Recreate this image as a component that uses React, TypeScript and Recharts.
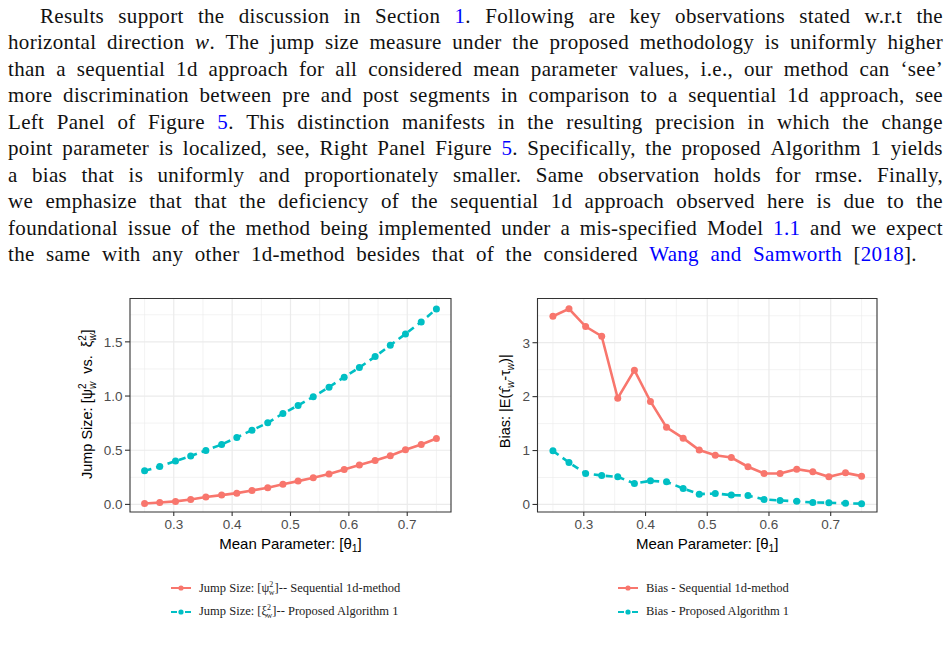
import React from 'react'
import { LineChart, Line, XAxis, YAxis, CartesianGrid, ReferenceArea } from 'recharts'

// mean parameter grid (20 values between 0.25 and 0.75)
const theta = [
  0.25, 0.276, 0.303, 0.329, 0.355, 0.382, 0.408, 0.434, 0.461, 0.487,
  0.513, 0.539, 0.566, 0.592, 0.618, 0.645, 0.671, 0.697, 0.724, 0.75,
]

const jumpSequential = [
  0.009, 0.018, 0.028, 0.046, 0.068, 0.086, 0.104, 0.129, 0.154, 0.187,
  0.215, 0.246, 0.28, 0.323, 0.363, 0.406, 0.449, 0.504, 0.553, 0.608,
]
const jumpProposed = [
  0.31, 0.35, 0.4, 0.446, 0.498, 0.553, 0.618, 0.685, 0.753, 0.839,
  0.913, 0.993, 1.082, 1.174, 1.263, 1.364, 1.469, 1.573, 1.684, 1.804,
]
const biasSequential = [
  3.49, 3.63, 3.3, 3.12, 1.97, 2.49, 1.91, 1.43, 1.23, 1.01,
  0.914, 0.87, 0.7, 0.574, 0.574, 0.654, 0.605, 0.512, 0.586, 0.525,
]
const biasProposed = [
  0.994, 0.778, 0.574, 0.537, 0.512, 0.389, 0.438, 0.42, 0.296, 0.191,
  0.204, 0.173, 0.165, 0.093, 0.074, 0.058, 0.037, 0.033, 0.022, 0.015,
]

const xTicks = [0.3, 0.4, 0.5, 0.6, 0.7]
const xMinor = [0.25, 0.35, 0.45, 0.55, 0.65, 0.75]
const jumpTicks = [0, 0.5, 1, 1.5]
const jumpMinor = [0.25, 0.75, 1.25, 1.75]
const biasTicks = [0, 1, 2, 3]
const biasMinor = [0.5, 1.5, 2.5, 3.5]

const paragraph = [
  'Results support the discussion in Section {1}.  Following are key observations stated w.r.t the',
  'horizontal direction *w*. The jump size measure under the proposed methodology is uniformly higher',
  'than a sequential 1d approach for all considered mean parameter values, i.e., our method can \u2018see\u2019',
  'more discrimination between pre and post segments in comparison to a sequential 1d approach, see',
  'Left Panel of Figure {5}. This distinction manifests in the resulting precision in which the change',
  'point parameter is localized, see, Right Panel Figure {5}. Specifically, the proposed Algorithm 1 yields',
  'a bias that is uniformly and proportionately smaller.  Same observation holds for rmse.  Finally,',
  'we emphasize that that the deficiency of the sequential 1d approach observed here is due to the',
  'foundational issue of the method being implemented under a mis-specified Model {1.1} and we expect',
  'the same with any other 1d-method besides that of the considered {Wang} {and} {Samworth} [{2018}].',
]

const RED = '#F8766D'
const CYAN = '#00BFC4'
const SANS = '"Liberation Sans", Arial, Helvetica, sans-serif'
const SERIF = '"Liberation Serif", "Times New Roman", serif'
const X_DOMAIN = [0.225, 0.775]
const JUMP_DOMAIN = [-0.07, 1.9]
const BIAS_DOMAIN = [-0.14, 3.82]

const jumpRows = theta.map((t, i) => ({ theta: t, seq: jumpSequential[i], prop: jumpProposed[i] }))
const biasRows = theta.map((t, i) => ({ theta: t, seq: biasSequential[i], prop: biasProposed[i] }))

const renderWord = (word: string, key: number) => {
  const parts = word.split(/(\{[^}]*\}|\*[^*]*\*)/).filter(Boolean)
  return (
    <span key={key}>
      {parts.map((p, i) => {
        if (p.startsWith('{')) return <span key={i} style={{ color: '#0000FF' }}>{p.slice(1, -1)}</span>
        if (p.startsWith('*')) return <i key={i}>{p.slice(1, -1)}</i>
        return <React.Fragment key={i}>{p}</React.Fragment>
      })}
    </span>
  )
}

function Paragraph() {
  return (
    <>
      {paragraph.map((line, i) => {
        const left = i === 0 ? 40 : 8
        const right = i === paragraph.length - 1 ? 917 : 943
        return (
          <div
            key={i}
            style={{
              position: 'absolute',
              left,
              top: 2.5 + i * 26.55,
              width: right - left,
              height: 26.5,
              lineHeight: '26.5px',
              display: 'flex',
              justifyContent: 'space-between',
              whiteSpace: 'nowrap',
              fontFamily: SERIF,
              fontSize: 21,
              letterSpacing: 0.32,
              color: '#111',
            }}
          >
            {line.split(/\s+/).map(renderWord)}
          </div>
        )
      })}
    </>
  )
}

const axisTick = { fill: '#4D4D4D', fontSize: 13.5, fontFamily: SANS }

const XTitle = ({ viewBox }: any) => {
  const vb = viewBox ?? { x: 70, y: 221, width: 321, height: 48 }
  return (
    <text x={vb.x + vb.width / 2} y={vb.y + 37} textAnchor="middle" fontSize={15} fontFamily={SANS} fill="#000">
      Mean Parameter: [θ
      <tspan fontSize={10.5} dy={3}>1</tspan>
      <tspan dy={-3}>]</tspan>
    </text>
  )
}

const JumpTitle = ({ viewBox }: any) => {
  const vb = viewBox ?? { x: 0, y: 8.5, width: 70, height: 213 }
  const cx = vb.x + 32
  const cy = vb.y + vb.height / 2 - 1
  return (
    <text
      transform={`translate(${cx},${cy}) rotate(-90)`}
      textAnchor="middle"
      fontSize={14.5}
      fontFamily={SANS}
      fill="#000"
      style={{ whiteSpace: 'pre' }}
    >
      Jump Size: [ψ
      <tspan fontSize={10} dy={-6}>2</tspan>
      <tspan fontSize={10} dx={-5.6} dy={10} fontStyle="italic">w</tspan>
      <tspan dy={-4}>{'  vs.  ξ'}</tspan>
      <tspan fontSize={10} dy={-6}>2</tspan>
      <tspan fontSize={10} dx={-5.6} dy={10} fontStyle="italic">w</tspan>
      <tspan dy={-4}>]</tspan>
    </text>
  )
}

const BiasTitle = ({ viewBox }: any) => {
  const vb = viewBox ?? { x: 0, y: 8.5, width: 57.5, height: 213 }
  const cx = vb.x + 30
  const cy = vb.y + vb.height / 2 - 4
  return (
    <text
      transform={`translate(${cx},${cy}) rotate(-90)`}
      textAnchor="middle"
      fontSize={14.5}
      fontFamily={SANS}
      fill="#000"
    >
      Bias: |E(τ̂
      <tspan fontSize={10} dy={4} fontStyle="italic">w</tspan>
      <tspan dy={-4}>-τ</tspan>
      <tspan fontSize={10} dy={4} fontStyle="italic">w</tspan>
      <tspan dy={-4}>)|</tspan>
    </text>
  )
}

interface PanelProps {
  rows: { theta: number; seq: number; prop: number }[]
  yDomain: number[]
  yTicks: number[]
  yMinor: number[]
  yWidth: number
  right: number
  digits: number
  title: React.ReactElement
}

function Panel({ rows, yDomain, yTicks, yMinor, yWidth, right, digits, title }: PanelProps) {
  return (
    <LineChart width={400} height={270} data={rows} margin={{ top: 8.5, right, bottom: 0, left: 0 }}>
      <CartesianGrid verticalValues={xMinor} horizontalValues={yMinor} stroke="#EBEBEB" strokeWidth={0.6} />
      <CartesianGrid verticalValues={xTicks} horizontalValues={yTicks} stroke="#EBEBEB" strokeWidth={1.2} />
      <XAxis
        type="number"
        dataKey="theta"
        domain={X_DOMAIN}
        ticks={xTicks}
        allowDataOverflow
        tickFormatter={(v: number) => v.toFixed(1)}
        height={48}
        tickSize={4}
        tickMargin={3}
        axisLine={false}
        tickLine={{ stroke: '#333333', strokeWidth: 1.1 }}
        tick={axisTick}
        label={<XTitle />}
      />
      <YAxis
        type="number"
        domain={yDomain}
        ticks={yTicks}
        allowDataOverflow
        tickFormatter={(v: number) => v.toFixed(digits)}
        width={yWidth}
        tickSize={5}
        tickMargin={2.5}
        axisLine={false}
        tickLine={{ stroke: '#333333', strokeWidth: 1.1 }}
        tick={axisTick}
        label={title}
      />
      <Line
        dataKey="seq"
        stroke={RED}
        strokeWidth={2.6}
        dot={{ r: 3.5, fill: RED, stroke: RED, strokeWidth: 0 }}
        activeDot={false}
        isAnimationActive={false}
      />
      <Line
        dataKey="prop"
        stroke={CYAN}
        strokeWidth={2.6}
        strokeDasharray="7 5"
        dot={{ r: 3.5, fill: CYAN, stroke: CYAN, strokeWidth: 0, strokeDasharray: '' }}
        activeDot={false}
        isAnimationActive={false}
      />
      <ReferenceArea
        x1={X_DOMAIN[0]}
        x2={X_DOMAIN[1]}
        y1={yDomain[0]}
        y2={yDomain[1]}
        fill="none"
        stroke="#333333"
        strokeWidth={1.1}
        ifOverflow="visible"
      />
    </LineChart>
  )
}

// superscript 2 stacked over subscript w
const Stack = () => (
  <>
    <span style={{ fontSize: 8, position: 'relative', top: -5 }}>2</span>
    <span style={{ fontSize: 8, position: 'relative', top: 3, marginLeft: -4.5 }}>w</span>
  </>
)

const LegendKey = ({ color, dashed }: { color: string; dashed?: boolean }) => (
  <svg width={21} height={10} style={{ marginRight: 7, flexShrink: 0 }}>
    <line x1={0} y1={5} x2={20} y2={5} stroke={color} strokeWidth={2} strokeDasharray={dashed ? '6 8' : undefined} />
    <circle cx={10} cy={5} r={2.6} fill={color} />
  </svg>
)

function LegendBox({ left, items }: { left: number; items: { color: string; dashed?: boolean; label: React.ReactNode }[] }) {
  return (
    <div style={{ position: 'absolute', left, top: 576.5, fontFamily: SERIF, fontSize: 12.5, color: '#222' }}>
      {items.map((it, i) => (
        <div key={i} style={{ display: 'flex', alignItems: 'center', height: 23.5, whiteSpace: 'nowrap' }}>
          <LegendKey color={it.color} dashed={it.dashed} />
          <span>{it.label}</span>
        </div>
      ))}
    </div>
  )
}

export default function App() {
  return (
    <div style={{ position: 'absolute', left: 0, top: 0, width: 951, height: 660, background: '#fff', overflow: 'hidden' }}>
      <Paragraph />
      <div style={{ position: 'absolute', left: 60, top: 290 }}>
        <Panel rows={jumpRows} yDomain={JUMP_DOMAIN} yTicks={jumpTicks} yMinor={jumpMinor} yWidth={70} right={9} digits={1} title={<JumpTitle />} />
      </div>
      <div style={{ position: 'absolute', left: 480, top: 290 }}>
        <Panel rows={biasRows} yDomain={BIAS_DOMAIN} yTicks={biasTicks} yMinor={biasMinor} yWidth={57.5} right={3} digits={0} title={<BiasTitle />} />
      </div>
      <LegendBox
        left={171}
        items={[
          { color: RED, label: <>Jump Size: [ψ<Stack />]-- Sequential 1d-method</> },
          { color: CYAN, dashed: true, label: <>Jump Size: [ξ<Stack />]-- Proposed Algorithm 1</> },
        ]}
      />
      <LegendBox
        left={618}
        items={[
          { color: RED, label: 'Bias - Sequential 1d-method' },
          { color: CYAN, dashed: true, label: 'Bias - Proposed Algorithm 1' },
        ]}
      />
    </div>
  )
}
